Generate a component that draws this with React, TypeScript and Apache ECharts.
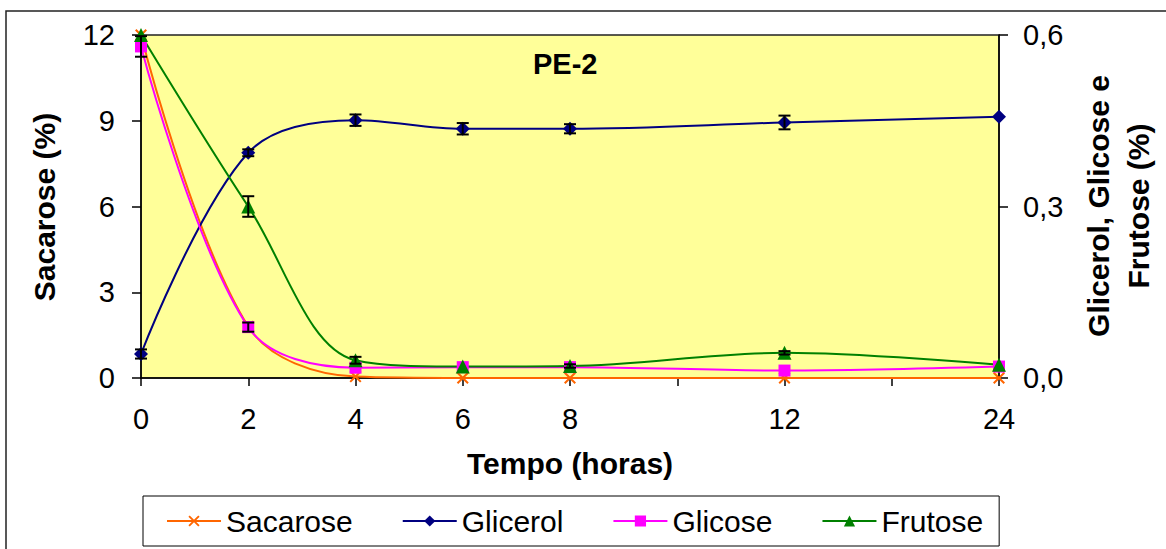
import React, { useEffect, useRef } from "react";
import * as echarts from "echarts";

const categories = ["0", "2", "4", "6", "8", "", "12", "", "24"];
const sacarose = [12.0, 1.8, 0.05, 0, 0, null, 0, null, 0];
const glicerol = [0.042, 0.394, 0.451, 0.436, 0.436, null, 0.447, null, 0.457];
const glicose = [0.58, 0.089, 0.018, 0.019, 0.019, null, 0.013, null, 0.02];
const frutose = [0.6, 0.3, 0.031, 0.02, 0.021, null, 0.044, null, 0.023];

const glicerolErr = [0.008, 0.006, 0.01, 0.01, 0.008, null, 0.012, null, 0];
const glicoseErr = [0.018, 0.008, 0, 0, 0, null, 0, null, 0];
const frutoseErr = [0, 0.018, 0.006, 0, 0.003, null, 0.003, null, 0];

const leftTicks = { min: 0, max: 12, interval: 3 };
const rightTicks = { min: 0, max: 0.6, interval: 0.3 };

const FONT = "'Liberation Sans', Arial, sans-serif";
const X_SYMBOL =
  "path://M0,1.2L1.2,0L5,3.8L8.8,0L10,1.2L6.2,5L10,8.8L8.8,10L5,6.2L1.2,10L0,8.8L3.8,5Z";

function errData(vals: (number | null)[], errs: (number | null)[]) {
  const out: number[][] = [];
  vals.forEach((v, i) => {
    const e = errs[i];
    if (v != null && e) out.push([i, v - e, v + e]);
  });
  return out;
}

export default function App() {
  const ref = useRef<HTMLDivElement>(null);
  useEffect(() => {
    document.body.style.margin = "0";
    const chart = echarts.init(ref.current!, null, { renderer: "svg" });
    const errRender = (params: any, api: any) => {
      const x = api.value(0);
      const top = api.coord([x, api.value(2)]);
      const bot = api.coord([x, api.value(1)]);
      const w = 6;
      const st = { stroke: "#000", lineWidth: 2 };
      return {
        type: "group",
        children: [
          { type: "line", shape: { x1: top[0], y1: top[1], x2: bot[0], y2: bot[1] }, style: st },
          { type: "line", shape: { x1: top[0] - w, y1: top[1], x2: top[0] + w, y2: top[1] }, style: st },
          { type: "line", shape: { x1: bot[0] - w, y1: bot[1], x2: bot[0] + w, y2: bot[1] }, style: st },
        ],
      };
    };
    const lineSeries = (name: string, data: any[], color: string, symbol: string, size: number, yAxisIndex: number) => ({
      name,
      type: "line",
      data,
      yAxisIndex,
      connectNulls: true,
      smooth: 0.35,
      symbol,
      symbolSize: size,
      showAllSymbol: true,
      lineStyle: { color, width: 2 },
      itemStyle: { color, borderWidth: 0 },
      z: 3,
    });
    const errSeries = (data: number[][]) => ({
      type: "custom",
      yAxisIndex: 1,
      renderItem: errRender,
      data,
      encode: { x: 0, y: [1, 2] },
      z: 4,
      silent: true,
    });
    chart.setOption({
      animation: false,
      textStyle: { fontFamily: FONT },
      title: {
        text: "PE-2",
        left: 528,
        top: 44,
        textStyle: { fontFamily: FONT, fontSize: 29, fontWeight: "bold", color: "#000" },
      },
      grid: {
        left: 141,
        top: 35,
        width: 858,
        height: 343,
        show: true,
        backgroundColor: "#FFFF99",
        borderColor: "#222",
        borderWidth: 1.5,
      },
      legend: {
        data: ["Sacarose", "Glicerol", "Glicose", "Frutose"],
        left: 143,
        top: 496,
        orient: "horizontal",
        padding: [10, 16, 10, 23],
        itemGap: 49,
        itemWidth: 54,
        itemHeight: 14,
        borderColor: "#000",
        borderWidth: 1,
        textStyle: { fontFamily: FONT, fontSize: 30, color: "#000" },
      },
      xAxis: {
        type: "category",
        data: categories,
        boundaryGap: false,
        axisLine: { lineStyle: { color: "#000", width: 1.5 } },
        axisTick: { show: true, interval: 0, length: 8, lineStyle: { color: "#000", width: 1.5 } },
        axisLabel: { interval: 0, margin: 26, fontSize: 29, color: "#000", fontFamily: FONT },
        splitLine: { show: false },
      },
      yAxis: [
        {
          type: "value",
          ...leftTicks,
          position: "left",
          axisLine: { show: true, lineStyle: { color: "#000", width: 1.5 } },
          axisTick: { show: true, length: 9, lineStyle: { color: "#000", width: 1.5 } },
          axisLabel: { margin: 26, fontSize: 29, color: "#000", fontFamily: FONT },
          splitLine: { show: false },
        },
        {
          type: "value",
          ...rightTicks,
          position: "right",
          axisLine: { show: true, lineStyle: { color: "#000", width: 1.5 } },
          axisTick: { show: true, length: 9, lineStyle: { color: "#000", width: 1.5 } },
          axisLabel: {
            margin: 24,
            fontSize: 29,
            color: "#000",
            fontFamily: FONT,
            formatter: (v: number) => v.toFixed(1).replace(".", ","),
          },
          splitLine: { show: false },
        },
      ],
      graphic: [
        {
          type: "rect",
          shape: { x: 6, y: 11, width: 1200, height: 600 },
          style: { fill: "none", stroke: "#222", lineWidth: 1.5 },
          z: -10,
          silent: true,
        },
        {
          type: "text",
          x: 44,
          y: 207,
          rotation: Math.PI / 2,
          style: {
            text: "Sacarose (%)",
            font: `bold 30px ${FONT}`,
            fill: "#000",
            align: "center",
            verticalAlign: "middle",
          },
        },
        {
          type: "text",
          x: 1118,
          y: 206,
          rotation: Math.PI / 2,
          style: {
            text: "Glicerol, Glicose e\nFrutose (%)",
            font: `bold 30px ${FONT}`,
            fill: "#000",
            align: "center",
            verticalAlign: "middle",
            lineHeight: 40,
          },
        },
        {
          type: "text",
          x: 570,
          y: 463,
          style: {
            text: "Tempo (horas)",
            font: `bold 30px ${FONT}`,
            fill: "#000",
            align: "center",
            verticalAlign: "middle",
          },
        },
      ],
      series: [
        errSeries(errData(glicerol, glicerolErr)),
        errSeries(errData(glicose, glicoseErr)),
        errSeries(errData(frutose, frutoseErr)),
        lineSeries("Sacarose", sacarose, "#FF6600", X_SYMBOL, 12, 0),
        lineSeries("Glicerol", glicerol, "#000080", "diamond", 14, 1),
        lineSeries("Glicose", glicose, "#FF00FF", "rect", 12, 1),
        lineSeries("Frutose", frutose, "#008000", "triangle", 14, 1),
      ],
    });
    return () => chart.dispose();
  }, []);
  return <div ref={ref} style={{ width: 1166, height: 549 }} />;
}
